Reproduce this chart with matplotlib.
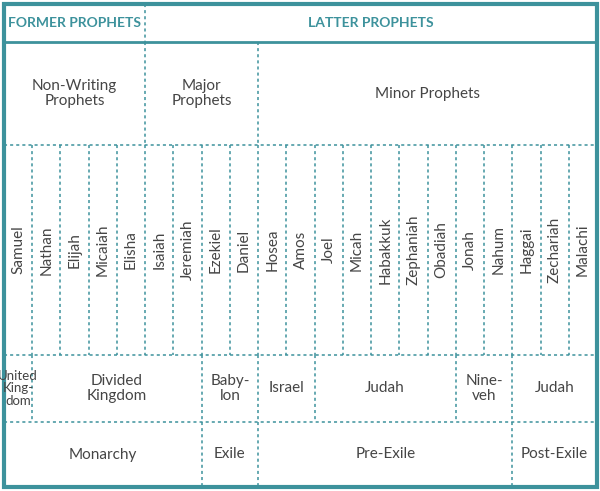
import matplotlib
matplotlib.use("Agg")
import matplotlib.pyplot as plt

headers = ["FORMER PROPHETS", "LATTER PROPHETS"]
header_spans = [5, 16]
categories = ["Non-Writing\nProphets", "Major\nProphets", "Minor Prophets"]
category_spans = [5, 4, 12]
prophets = ["Samuel", "Nathan", "Elijah", "Micaiah", "Elisha", "Isaiah", "Jeremiah",
            "Ezekiel", "Daniel", "Hosea", "Amos", "Joel", "Micah", "Habakkuk",
            "Zephaniah", "Obadiah", "Jonah", "Nahum", "Haggai", "Zechariah", "Malachi"]
kingdoms = ["United\nKing-\ndom", "Divided\nKingdom", "Baby-\nlon", "Israel", "Judah",
            "Nine-\nveh", "Judah"]
kingdom_spans = [1, 6, 2, 2, 5, 2, 3]
eras = ["Monarchy", "Exile", "Pre-Exile", "Post-Exile"]
era_spans = [7, 2, 9, 3]

TEAL = "#3d929c"
TXT = "#454545"
fig = plt.figure(figsize=(6, 4.91), dpi=100)
ax = fig.add_axes([0, 0, 1, 1])
ax.set_xlim(0, 600); ax.set_ylim(491, 0); ax.axis("off")

x0, x1 = 4, 597
n = len(prophets)
w = (x1 - x0) / n
rows = [4, 42, 145, 355, 422, 487]
dash = dict(color=TEAL, lw=1.1, ls=(0, (2, 2)))

def band(labels, spans, r, fontsize=11, **kw):
    ya, yb = rows[r], rows[r + 1]
    c = 0
    for lab, s in zip(labels, spans):
        xa, xb = x0 + c * w, x0 + (c + s) * w
        if c > 0:
            ax.plot([xa, xa], [ya, yb], **dash)
        fs = fontsize if s > 1 else min(fontsize, 9.5)
        ax.text((xa + xb) / 2, (ya + yb) / 2, lab, ha="center", va="center",
                linespacing=1.05, fontsize=fs, **kw)
        c += s

band(headers, header_spans, 0, fontsize=10, color=TEAL, fontweight="bold", family="Lato")
band(categories, category_spans, 1, color=TXT, family="Lato")
ya, yb = rows[2], rows[3]
for i, p in enumerate(prophets):
    xa = x0 + i * w
    if i > 0:
        ax.plot([xa, xa], [ya, yb], **dash)
    ax.text(xa + w / 2, (ya + yb) / 2, p, rotation=90, ha="center", va="center",
            color=TXT, fontsize=11, family="Lato")
band(kingdoms, kingdom_spans, 3, color=TXT, family="Lato")
band(eras, era_spans, 4, color=TXT, family="Lato")

for y in rows[2:5]:
    ax.plot([x0, x1], [y, y], **dash)
ax.plot([x0, x1], [rows[1], rows[1]], color=TEAL, lw=2)
ax.add_patch(plt.Rectangle((x0, rows[0]), x1 - x0, rows[-1] - rows[0],
                           fill=False, ec=TEAL, lw=3))
fig.savefig("out.png", dpi=100)
